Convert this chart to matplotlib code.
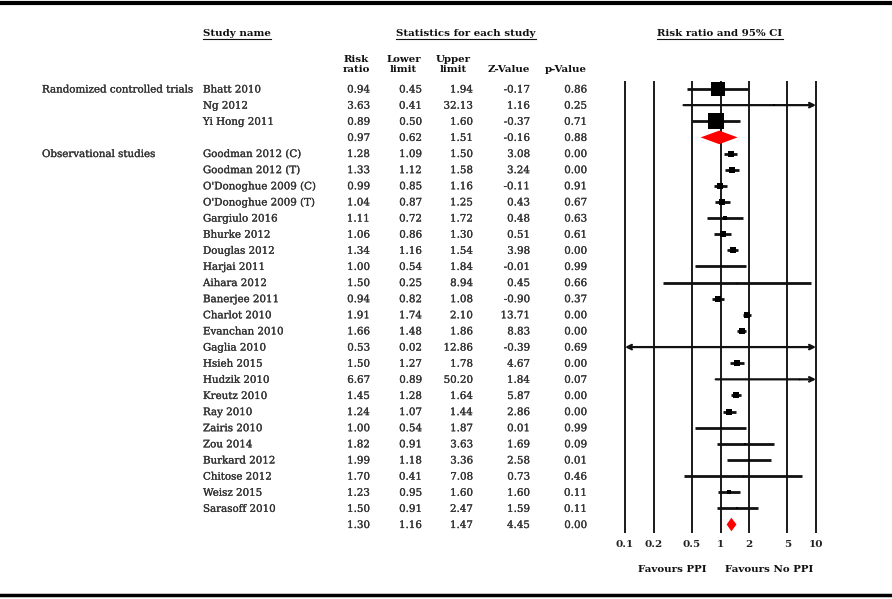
import matplotlib
matplotlib.use("Agg")
import matplotlib.pyplot as plt
import matplotlib.transforms as mtransforms
import matplotlib.patheffects as pe
from matplotlib.lines import Line2D
import numpy as np

plt.rcParams['font.family'] = ['DejaVu Serif']

# ---- data ----
group_labels = ["Randomized controlled trials", "Observational studies"]
group_rows = [0, 4]

study_names = ["Bhatt 2010", "Ng 2012", "Yi Hong 2011", "",
               "Goodman 2012 (C)", "Goodman 2012 (T)", "O'Donoghue 2009 (C)",
               "O'Donoghue 2009 (T)", "Gargiulo 2016", "Bhurke 2012",
               "Douglas 2012", "Harjai 2011", "Aihara 2012", "Banerjee 2011",
               "Charlot 2010", "Evanchan 2010", "Gaglia 2010", "Hsieh 2015",
               "Hudzik 2010", "Kreutz 2010", "Ray 2010", "Zairis 2010",
               "Zou 2014", "Burkard 2012", "Chitose 2012", "Weisz 2015",
               "Sarasoff 2010", ""]
is_pooled = [False, False, False, True] + [False] * 23 + [True]

risk_ratio = [0.94, 3.63, 0.89, 0.97, 1.28, 1.33, 0.99, 1.04, 1.11, 1.06,
              1.34, 1.00, 1.50, 0.94, 1.91, 1.66, 0.53, 1.50, 6.67, 1.45,
              1.24, 1.00, 1.82, 1.99, 1.70, 1.23, 1.50, 1.30]
lower_limit = [0.45, 0.41, 0.50, 0.62, 1.09, 1.12, 0.85, 0.87, 0.72, 0.86,
               1.16, 0.54, 0.25, 0.82, 1.74, 1.48, 0.02, 1.27, 0.89, 1.28,
               1.07, 0.54, 0.91, 1.18, 0.41, 0.95, 0.91, 1.16]
upper_limit = [1.94, 32.13, 1.60, 1.51, 1.50, 1.58, 1.16, 1.25, 1.72, 1.30,
               1.54, 1.84, 8.94, 1.08, 2.10, 1.86, 12.86, 1.78, 50.20, 1.64,
               1.44, 1.87, 3.63, 3.36, 7.08, 1.60, 2.47, 1.47]
z_value = [-0.17, 1.16, -0.37, -0.16, 3.08, 3.24, -0.11, 0.43, 0.48, 0.51,
           3.98, -0.01, 0.45, -0.90, 13.71, 8.83, -0.39, 4.67, 1.84, 5.87,
           2.86, 0.01, 1.69, 2.58, 0.73, 1.60, 1.59, 4.45]
p_value = [0.86, 0.25, 0.71, 0.88, 0.00, 0.00, 0.91, 0.67, 0.63, 0.61,
           0.00, 0.99, 0.66, 0.37, 0.00, 0.00, 0.69, 0.00, 0.07, 0.00,
           0.00, 0.99, 0.09, 0.01, 0.46, 0.11, 0.11, 0.00]
# relative study weight, shown as box size (points)
box_size = [9.5, 2, 11, 0, 4.5, 4.5, 4.5, 4, 2.5, 4, 4.5, 1.5, 1, 4,
            4, 4, 0.5, 4, 1, 4.5, 4.5, 1.5, 1.5, 2, 1, 3.5, 2, 0]

ticks = [0.1, 0.2, 0.5, 1, 2, 5, 10]
tick_labels = ["0.1", "0.2", "0.5", "1", "2", "5", "10"]

W, H = 892, 599
fig = plt.figure(figsize=(W / 100, H / 100), dpi=100)
fig.patch.set_facecolor("white")

def fx(px):
    return px / W

def fy(py):
    return 1 - py / H

ax = fig.add_axes([fx(625), fy(532), fx(816) - fx(625), fy(82) - fy(532)])
ax.set_xscale("log")
ax.set_xlim(0.1, 10)
n = len(study_names)
ax.set_ylim(n - 1 + 0.465, -0.434)
for s in ax.spines.values():
    s.set_visible(False)
ax.set_yticks([])
ax.set_xticks(ticks)
ax.set_xticklabels(tick_labels, fontweight="bold", fontsize=7.5, color="#222")
ax.xaxis.set_minor_locator(matplotlib.ticker.NullLocator())
ax.tick_params(axis="x", length=0, pad=6)

for t in ticks:
    ax.axvline(t, color="#1a1a1a", lw=1.4, clip_on=False, zorder=1)

ink = "#111111"
lo_x, hi_x = ticks[0], ticks[-1]
for i in range(n):
    rr, lo, hi = risk_ratio[i], lower_limit[i], upper_limit[i]
    if is_pooled[i]:
        h = 0.42
        ax.fill([lo, rr, hi, rr], [i, i - h, i, i + h], color="#ff0000",
                lw=0, zorder=3)
        continue
    a, b = max(lo, lo_x), min(hi, hi_x)
    if lo < lo_x or hi > hi_x:
        style = "<->" if (lo < lo_x and hi > hi_x) else ("->" if hi > hi_x else "<-")
        ax.annotate("", xy=(b, i), xytext=(a, i),
                    arrowprops=dict(arrowstyle=style, color=ink, lw=1.6,
                                    shrinkA=0, shrinkB=0,
                                    mutation_scale=8),
                    annotation_clip=False, zorder=2)
    else:
        ax.plot([a, b], [i, i], color=ink, lw=2.0, solid_capstyle="butt",
                zorder=2)
    if rr <= hi_x:
        ax.plot(rr, i, marker="s", ms=box_size[i], color="black",
                mec="black", mew=0, zorder=3)

# ---- table text ----
tr = mtransforms.blended_transform_factory(fig.transFigure, ax.transData)
fs = 7.4
thick = [pe.withStroke(linewidth=0.2, foreground="#333333")]
for lab, r in zip(group_labels, group_rows):
    fig.text(fx(42), r, lab, transform=tr, fontsize=fs, color="#333333",
             va="center_baseline", ha="left", path_effects=thick)

cols = [(370, risk_ratio), (422, lower_limit), (473, upper_limit),
        (530, z_value), (587, p_value)]
for i in range(n):
    if study_names[i]:
        fig.text(fx(203), i, study_names[i], transform=tr, fontsize=fs,
                 color="#333333", va="center_baseline", ha="left",
                 path_effects=thick)
    for x, vals in cols:
        fig.text(fx(x), i, "%.2f" % vals[i], transform=tr, fontsize=fs,
                 color="#333333", va="center_baseline", ha="right",
                 path_effects=thick)

heads = [(370, "Risk\nratio"), (421, "Lower\nlimit"), (471, "Upper\nlimit"),
         (530, "Z-Value"), (587, "p-Value")]
for x, lab in heads:
    fig.text(fx(x), fy(72), lab, fontsize=fs, fontweight="bold", color=ink,
             ha="right", va="baseline", multialignment="center",
             linespacing=1.1)

titles = [
    fig.text(fx(203), fy(33), "Study name", fontsize=fs, fontweight="bold",
             color=ink, ha="left", va="center"),
    fig.text(fx(466), fy(33), "Statistics for each study", fontsize=fs,
             fontweight="bold", color=ink, ha="center", va="center"),
    fig.text(fx(720), fy(33), "Risk ratio and 95% CI", fontsize=fs,
             fontweight="bold", color=ink, ha="center", va="center"),
]

fig.text(fx(672), fy(569), "Favours PPI", fontsize=fs, fontweight="bold",
         color=ink, ha="center", va="center")
fig.text(fx(769), fy(569), "Favours No PPI", fontsize=fs, fontweight="bold",
         color=ink, ha="center", va="center")

# underline titles
fig.canvas.draw()
renderer = fig.canvas.get_renderer()
inv = fig.transFigure.inverted()
for t in titles:
    bb = t.get_window_extent(renderer).transformed(inv)
    fig.add_artist(Line2D([bb.x0, bb.x1], [bb.y0 - 0.002, bb.y0 - 0.002],
                          transform=fig.transFigure, color=ink, lw=0.8))

# frame rules top and bottom
fig.add_artist(Line2D([0, 1], [fy(2.5), fy(2.5)], transform=fig.transFigure,
                      color="black", lw=3))
fig.add_artist(Line2D([0, 1], [fy(595), fy(595)], transform=fig.transFigure,
                      color="black", lw=2.5))

fig.savefig("out.png", dpi=100, facecolor="white")
